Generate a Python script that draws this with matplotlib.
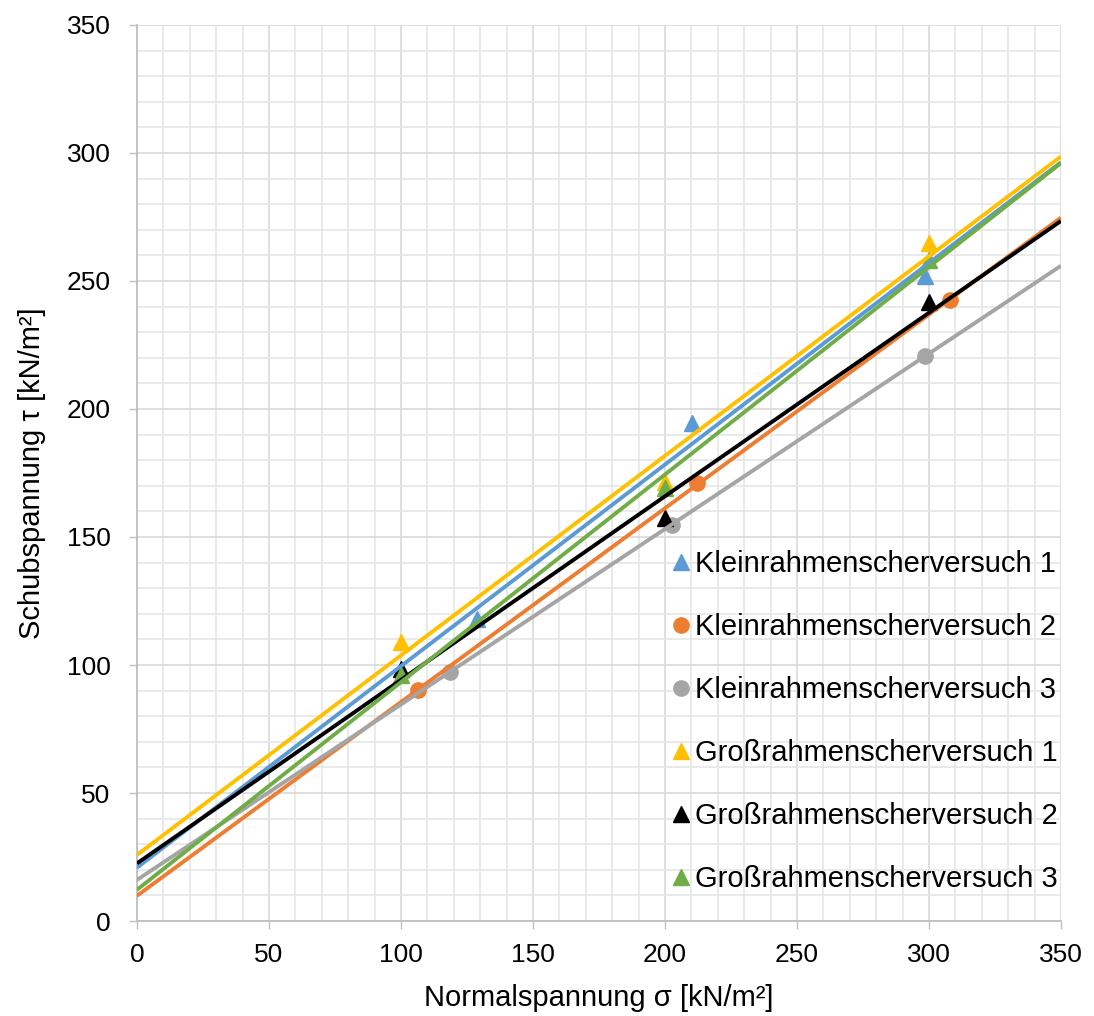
import numpy as np
import matplotlib as mpl
import matplotlib.pyplot as plt
from matplotlib.ticker import MultipleLocator

mpl.rcParams['font.family'] = ['Liberation Sans', 'DejaVu Sans']

# Kleinrahmenscherversuche
krs1_sigma = [128.7, 210.3, 298.5]
krs1_tau = [118.0, 194.4, 252.0]
krs2_sigma = [106.6, 212.0, 308.0]
krs2_tau = [90.2, 171.0, 242.6]
krs3_sigma = [118.6, 202.5, 298.5]
krs3_tau = [97.4, 154.7, 220.7]

# Großrahmenscherversuche
grs1_sigma = [100.0, 200.0, 300.0]
grs1_tau = [108.8, 171.6, 264.7]
grs2_sigma = [100.0, 200.0, 300.0]
grs2_tau = [98.5, 157.3, 241.9]
grs3_sigma = [100.0, 200.0, 300.0]
grs3_tau = [96.0, 169.0, 258.2]

series = [
    ('Kleinrahmenscherversuch 1', krs1_sigma, krs1_tau, '#5B9BD5', '^'),
    ('Kleinrahmenscherversuch 2', krs2_sigma, krs2_tau, '#ED7D31', 'o'),
    ('Kleinrahmenscherversuch 3', krs3_sigma, krs3_tau, '#A5A5A5', 'o'),
    ('Großrahmenscherversuch 1', grs1_sigma, grs1_tau, '#FFC000', '^'),
    ('Großrahmenscherversuch 2', grs2_sigma, grs2_tau, '#000000', '^'),
    ('Großrahmenscherversuch 3', grs3_sigma, grs3_tau, '#70AD47', '^'),
]

fig = plt.figure(figsize=(10.94, 10.16), dpi=100)
ax = fig.add_axes([0.1252, 0.0935, 0.8446, 0.8819])

# markers first, linear trendlines on top (like Excel)
handles = []
for label, xs, ys, color, marker in series:
    h, = ax.plot(xs, ys, ls='none', marker=marker, color=color,
                 markersize=11, label=label, zorder=3)
    handles.append(h)

xfit = np.array([0, 350])
for label, xs, ys, color, marker in series:
    m, b = np.polyfit(xs, ys, 1)
    ax.plot(xfit, m * xfit + b, color=color, lw=2.8, zorder=4,
            solid_capstyle='butt')

ax.set_xlim(0, 350)
ax.set_ylim(0, 350)
ax.xaxis.set_major_locator(MultipleLocator(50))
ax.yaxis.set_major_locator(MultipleLocator(50))
ax.xaxis.set_minor_locator(MultipleLocator(10))
ax.yaxis.set_minor_locator(MultipleLocator(10))
ax.grid(which='major', color='#D9D9D9', lw=1.2, zorder=0)
ax.grid(which='minor', color='#E6E6E6', lw=1.2, zorder=0)
ax.set_axisbelow(True)

for s in ['top', 'right']:
    ax.spines[s].set_visible(False)
for s in ['left', 'bottom']:
    ax.spines[s].set_color('#BFBFBF')
    ax.spines[s].set_linewidth(1.3)

ax.tick_params(which='major', length=6, width=1.0, color='#BFBFBF',
               labelsize=19, labelcolor='#000000')
ax.tick_params(axis='x', pad=10)
ax.tick_params(axis='y', pad=13)
ax.tick_params(which='minor', length=0)

ax.set_xlabel('Normalspannung σ [kN/m²]', fontsize=21, labelpad=12)
ax.set_ylabel('Schubspannung τ [kN/m²]', fontsize=21, labelpad=15)

ax.legend(handles=handles, loc='lower right', bbox_to_anchor=(1.027, 0.0),
          frameon=False, fontsize=21, handlelength=0.5, handletextpad=0.25,
          labelspacing=1.2, borderaxespad=0.75, borderpad=0.2)

fig.savefig('out.png', dpi=100)
